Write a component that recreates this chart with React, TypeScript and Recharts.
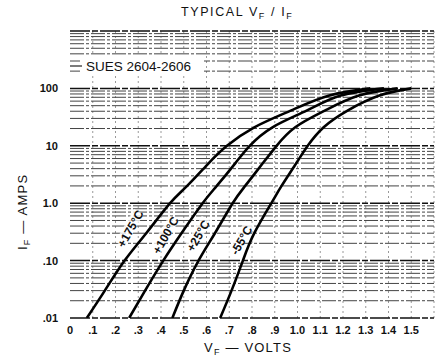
import { LineChart, Line, XAxis, YAxis, ReferenceLine, ReferenceDot } from "recharts"

// forward current levels read at each point (amps)
const ampLevels = [0.01, 0.03, 0.1, 0.3, 1, 2, 5, 10, 21, 41, 75, 100]

// forward voltage at each current level, per junction temperature
const vf175 = [0.074, 0.153, 0.24, 0.335, 0.44, 0.515, 0.61, 0.69, 0.81, 0.97, 1.14, 1.32]
const vf100 = [0.26, 0.33, 0.41, 0.49, 0.583, 0.645, 0.727, 0.79, 0.89, 1.04, 1.19, 1.38]
const vf25 = [0.45, 0.5, 0.565, 0.637, 0.715, 0.77, 0.848, 0.908, 0.99, 1.12, 1.27, 1.44]
const vfMinus55 = [0.66, 0.71, 0.76, 0.81, 0.885, 0.93, 0.995, 1.045, 1.115, 1.22, 1.36, 1.5]

const xTicks = [0, 0.1, 0.2, 0.3, 0.4, 0.5, 0.6, 0.7, 0.8, 0.9, 1.0, 1.1, 1.2, 1.3, 1.4, 1.5]
const yTicks = [0.01, 0.1, 1, 10, 100]
const yTickLabels = [".01", ".10", "1.0", "10", "100"]
const decades = [0.01, 0.1, 1, 10, 100]
const gridSteps = [2, 3, 4, 5, 6, 7, 8, 9]

const curveLabels = [
    { text: "+175°C", v: 0.27, a: 0.35 },
    { text: "+100°C", v: 0.425, a: 0.27 },
    { text: "+25°C", v: 0.568, a: 0.265 },
    { text: "-55°C", v: 0.758, a: 0.22 },
]

const toPoints = (vf: number[]) => vf.map((v, i) => ({ v, a: ampLevels[i] }))

const series = [
    { name: "+175", data: toPoints(vf175) },
    { name: "+100", data: toPoints(vf100) },
    { name: "+25", data: toPoints(vf25) },
    { name: "-55", data: toPoints(vfMinus55) },
]

const font = "'Liberation Sans', Arial, sans-serif"

const fmtX = (v: number) => {
    if (v === 0) return "0"
    if (v < 1) return "." + Math.round(v * 10)
    return v.toFixed(1)
}

export default function App() {
    const minorLines: number[] = []
    decades.forEach((d) => gridSteps.forEach((s) => minorLines.push(d * s)))
    const majorLines = [...decades, 1000]

    return (
        <div style={{ position: "absolute", left: 0, top: 0, width: 445, height: 364, background: "#fff" }}>
            <LineChart
                width={445}
                height={364}
                margin={{ top: 31, right: 11, bottom: 26, left: 20 }}
            >
                <XAxis
                    type="number"
                    dataKey="v"
                    domain={[0, 1.6]}
                    ticks={xTicks}
                    tickFormatter={fmtX}
                    axisLine={false}
                    tickLine={false}
                    interval={0}
                    height={20}
                    tickMargin={2}
                    tick={{ fill: "#111", fontSize: 11, fontWeight: 700, fontFamily: font }}
                    allowDataOverflow
                />
                <YAxis
                    type="number"
                    dataKey="a"
                    scale="log"
                    domain={[0.01, 1000]}
                    ticks={yTicks}
                    tickFormatter={(v: number) => yTickLabels[yTicks.indexOf(v)] ?? ""}
                    axisLine={false}
                    tickLine={false}
                    width={50}
                    tickMargin={6}
                    tick={{ fill: "#111", fontSize: 11, fontWeight: 700, fontFamily: font }}
                    allowDataOverflow
                />

                {xTicks.slice(1).concat([1.6]).map((x) => (
                    <ReferenceLine key={"vx" + x} x={x} stroke="#999" strokeWidth={1} strokeDasharray="2 3" />
                ))}
                {minorLines.map((y) => (
                    <ReferenceLine key={"hy" + y} y={y} stroke="#444" strokeWidth={1} strokeDasharray="14 2 3 2" />
                ))}
                {majorLines.map((y) => (
                    <ReferenceLine key={"my" + y} y={y} stroke="#111" strokeWidth={1.5} strokeDasharray="20 2 6 2" />
                ))}

                {series.map((s) => (
                    <Line
                        key={s.name}
                        data={s.data}
                        dataKey="a"
                        type="natural"
                        stroke="#000"
                        strokeWidth={2.6}
                        dot={false}
                        isAnimationActive={false}
                    />
                ))}

                {curveLabels.map((l) => (
                    <ReferenceDot
                        key={l.text}
                        x={l.v}
                        y={l.a}
                        r={0}
                        shape={(p: any) => (
                            <g transform={`translate(${p.cx},${p.cy}) rotate(-60)`}>
                                <rect x={-19} y={-8} width={38} height={11} fill="#fff" opacity={0.8} />
                                <text
                                    x={0}
                                    y={3}
                                    textAnchor="middle"
                                    fontSize={12}
                                    fontWeight={700}
                                    fontFamily={font}
                                    fill="#111"
                                >
                                    {l.text}
                                </text>
                            </g>
                        )}
                    />
                ))}
            </LineChart>

            <svg width={445} height={364} style={{ position: "absolute", left: 0, top: 0, pointerEvents: "none" }}>
                <g fontFamily={font} fill="#111">
                    <text x={181} y={16} fontSize={12.5} letterSpacing={1.6}>
                        TYPICAL  V<tspan fontSize={9} dy={3}>F</tspan>
                        <tspan dy={-3}> / I</tspan>
                        <tspan fontSize={9} dy={3}>F</tspan>
                    </text>

                    <rect x={80} y={55} width={124} height={21} fill="#fff" />
                    <line x1={70} y1={66} x2={82} y2={66} stroke="#222" strokeWidth={1.2} />
                    <text x={86} y={71} fontSize={13.5}>SUES 2604-2606</text>

                    <text x={204} y={352} fontSize={13} letterSpacing={1.2}>
                        V<tspan fontSize={9} dy={3}>F</tspan>
                        <tspan dy={-3}>  —  VOLTS</tspan>
                    </text>

                    <text transform="translate(27,250) rotate(-90)" fontSize={13} letterSpacing={1.2}>
                        I<tspan fontSize={9} dy={3}>F</tspan>
                        <tspan dy={-3}>  —  AMPS</tspan>
                    </text>
                </g>
            </svg>
        </div>
    )
}
